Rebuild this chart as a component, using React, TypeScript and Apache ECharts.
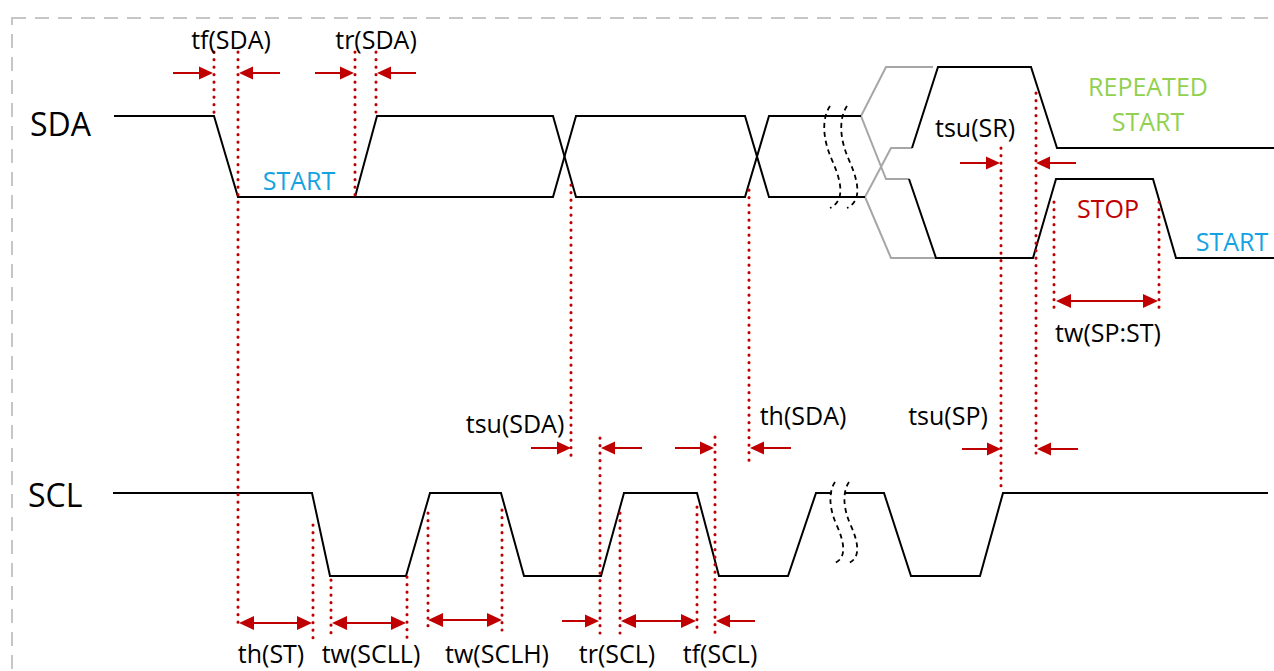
import React, { useEffect, useRef } from "react";
import * as echarts from "echarts";

const W = 1274;
const H = 671;

// signal levels (vertical value units)
const SDA_HI = 116;
const SDA_LO = 197;
const RS_TOP = 67;
const RS_MID = 148;
const SP_MID = 179;
const SP_LOW = 258;
const SCL_HI = 493;
const SCL_LO = 576;

// SDA bus traces (time, level)
const sdaTraceA = [[114, SDA_HI], [214, SDA_HI], [238, SDA_LO], [355, SDA_LO], [553, SDA_LO], [576, SDA_HI], [745, SDA_HI], [769, SDA_LO], [865, SDA_LO]];
const sdaTraceB = [[355, SDA_LO], [377, SDA_HI], [553, SDA_HI], [576, SDA_LO], [745, SDA_LO], [769, SDA_HI], [861, SDA_HI]];
const sdaGrayUpper = [[933, RS_TOP], [886, RS_TOP], [861, SDA_HI], [886, SP_MID], [909, SP_MID]];
const sdaGrayLower = [[912, RS_MID], [891, RS_MID], [865, SDA_LO], [891, SP_LOW], [936, SP_LOW]];
const sdaRepeatedStart = [[912, RS_MID], [938, RS_TOP], [1031, RS_TOP], [1057, RS_MID], [1274, RS_MID]];
const sdaStopStart = [[909, SP_MID], [936, SP_LOW], [1033, SP_LOW], [1056, SP_MID], [1153, SP_MID], [1176, SP_LOW], [1274, SP_LOW]];

// SCL traces
const sclTraceA = [[113, SCL_HI], [312, SCL_HI], [330, SCL_LO], [406, SCL_LO], [430, SCL_HI], [501, SCL_HI], [524, SCL_LO], [601, SCL_LO], [624, SCL_HI], [697, SCL_HI], [719, SCL_LO], [788, SCL_LO], [816, SCL_HI], [832, SCL_HI]];
const sclTraceB = [[845, SCL_HI], [884, SCL_HI], [911, SCL_LO], [980, SCL_LO], [1003, SCL_HI], [1268, SCL_HI]];

// dotted timing markers: [time, from level, to level]
const markers = [
  [214, 52, 118], [238, 52, 625], [355, 52, 197], [376, 52, 112],
  [571, 185, 458], [749, 190, 462],
  [600, 438, 633], [620, 513, 633], [697, 507, 633], [715, 437, 633],
  [313, 525, 643], [331, 580, 638], [407, 577, 638], [428, 513, 630], [502, 510, 630],
  [1001, 148, 492], [1036, 93, 453], [1054, 202, 312], [1159, 202, 312],
];

// single arrows: [from time, to time (tip), level]
const arrowsOne = [
  [173, 213, 73], [280, 239, 73], [315, 354, 73], [416, 377, 73],
  [960, 1000, 163], [1076, 1036, 163],
  [531, 571, 448], [642, 601, 448], [675, 714, 448], [791, 750, 448],
  [962, 1001, 449], [1078, 1037, 449],
  [562, 599, 621], [755, 716, 621],
];
// double arrows: [time a, time b, level]
const arrowsTwo = [
  [239, 312, 623], [332, 406, 623], [428, 502, 620], [621, 696, 621], [1056, 1158, 301],
];

// break marks: [time, top level, bottom level, spacing]
const breaks = [
  [830, 106, 208, 17],
  [835, 482, 563, 14],
];

// annotation texts
const labelTexts = ["tf(SDA)", "tr(SDA)", "START", "REPEATED", "START", "tsu(SR)", "STOP", "START", "tw(SP:ST)", "tsu(SDA)", "th(SDA)", "tsu(SP)", "th(ST)", "tw(SCLL)", "tw(SCLH)", "tr(SCL)", "tf(SCL)"];
const labelKinds = ["k", "k", "b", "g", "g", "k", "r", "b", "k", "k", "k", "k", "k", "k", "k", "k", "k"];
const labelAt = [
  [231, 39], [376, 39], [299, 180], [1148, 86], [1148, 121], [975, 127], [1108, 208], [1232, 241], [1108, 332],
  [515, 423], [803, 415], [948, 415], [271, 653], [371, 653], [497, 653], [617, 653], [720, 653],
];
const signalNames = ["SDA", "SCL"];
const signalAt = [[30, 123], [28, 494]];

const RED = "#c00000";
const KIND_COLOR: Record<string, string> = { k: "#000000", b: "#14a3e0", g: "#92d050", r: "#c00000" };
const FONT = '"Open Sans", "Noto Sans", sans-serif';

function wave(data: number[][], color: string) {
  return {
    type: "line",
    data,
    symbol: "none",
    showSymbol: false,
    silent: true,
    lineStyle: { color, width: 2, join: "miter" },
    z: 3,
  };
}

export default function App() {
  const ref = useRef<HTMLDivElement>(null);
  useEffect(() => {
    document.body.style.margin = "0";
    const chart = echarts.init(ref.current!, null, { renderer: "svg" });

    const series: any[] = [
      wave(sdaGrayUpper, "#a6a6a6"),
      wave(sdaGrayLower, "#a6a6a6"),
      wave(sdaTraceA, "#000"),
      wave(sdaTraceB, "#000"),
      wave(sdaRepeatedStart, "#000"),
      wave(sdaStopStart, "#000"),
      wave(sclTraceA, "#000"),
      wave(sclTraceB, "#000"),
      {
        type: "custom",
        silent: true,
        z: 5,
        data: markers,
        renderItem: (params: any, api: any) => {
          const a = api.coord([api.value(0), api.value(1)]);
          const b = api.coord([api.value(0), api.value(2)]);
          return {
            type: "line",
            shape: { x1: a[0], y1: a[1], x2: b[0], y2: b[1] },
            style: { stroke: RED, lineWidth: 3, lineDash: [0.3, 7.2], lineCap: "round" },
          };
        },
      },
      {
        type: "custom",
        silent: true,
        z: 6,
        data: arrowsOne,
        renderItem: (params: any, api: any) => {
          const a = api.coord([api.value(0), api.value(2)]);
          const b = api.coord([api.value(1), api.value(2)]);
          const s = Math.sign(b[0] - a[0]) || 1;
          const L = 14, Wd = 6.5;
          return {
            type: "group",
            children: [
              { type: "line", shape: { x1: a[0], y1: a[1], x2: b[0] - s * L * 0.7, y2: b[1] }, style: { stroke: RED, lineWidth: 2 } },
              { type: "polygon", shape: { points: [[b[0], b[1]], [b[0] - s * L, b[1] - Wd], [b[0] - s * L, b[1] + Wd]] }, style: { fill: RED } },
            ],
          };
        },
      },
      {
        type: "custom",
        silent: true,
        z: 6,
        data: arrowsTwo,
        renderItem: (params: any, api: any) => {
          const a = api.coord([api.value(0), api.value(2)]);
          const b = api.coord([api.value(1), api.value(2)]);
          const L = 15, Wd = 7;
          return {
            type: "group",
            children: [
              { type: "line", shape: { x1: a[0] + L * 0.7, y1: a[1], x2: b[0] - L * 0.7, y2: b[1] }, style: { stroke: RED, lineWidth: 2 } },
              { type: "polygon", shape: { points: [[b[0], b[1]], [b[0] - L, b[1] - Wd], [b[0] - L, b[1] + Wd]] }, style: { fill: RED } },
              { type: "polygon", shape: { points: [[a[0], a[1]], [a[0] + L, a[1] - Wd], [a[0] + L, a[1] + Wd]] }, style: { fill: RED } },
            ],
          };
        },
      },
      {
        type: "custom",
        silent: true,
        z: 7,
        data: breaks,
        renderItem: (params: any, api: any) => {
          const x0 = api.value(0), yt = api.value(1), yb = api.value(2), gap = api.value(3);
          const h = yb - yt;
          const k = h / 102;
          const rel = [[0, 0], [-8, 0.12], [-8, 0.31], [2, 0.53], [12, 0.75], [15, 0.93], [0, 1]];
          const mk = (off: number) => {
            const p = rel.map(([dx, fy]) => api.coord([x0 + off + dx * k, yt + fy * h]));
            const d = `M${p[0][0]},${p[0][1]} C${p[1][0]},${p[1][1]} ${p[2][0]},${p[2][1]} ${p[3][0]},${p[3][1]} C${p[4][0]},${p[4][1]} ${p[5][0]},${p[5][1]} ${p[6][0]},${p[6][1]}`;
            return {
              type: "path",
              shape: { pathData: d },
              style: { stroke: "#000", fill: "none", lineWidth: 1.8, lineDash: [5, 4] },
            };
          };
          return { type: "group", children: [mk(0), mk(gap)] };
        },
      },
      {
        type: "custom",
        silent: true,
        z: 8,
        data: labelAt.map((p, i) => [p[0], p[1], i]),
        renderItem: (params: any, api: any) => {
          const i = api.value(2);
          const p = api.coord([api.value(0), api.value(1)]);
          return {
            type: "text",
            x: p[0],
            y: p[1],
            style: {
              text: labelTexts[i],
              fill: KIND_COLOR[labelKinds[i]],
              fontSize: 25,
              fontFamily: FONT,
              align: "center",
              verticalAlign: "middle",
            },
          };
        },
      },
      {
        type: "custom",
        silent: true,
        z: 8,
        data: signalAt.map((p, i) => [p[0], p[1], i]),
        renderItem: (params: any, api: any) => {
          const i = api.value(2);
          const p = api.coord([api.value(0), api.value(1)]);
          return {
            type: "text",
            x: p[0],
            y: p[1],
            style: {
              text: signalNames[i],
              fill: "#000",
              fontSize: 32,
              fontFamily: FONT,
              align: "left",
              verticalAlign: "middle",
            },
          };
        },
      },
    ];

    chart.setOption({
      animation: false,
      backgroundColor: "#ffffff",
      grid: { left: 0, right: 0, top: 0, bottom: 0 },
      xAxis: { type: "value", min: 0, max: W, show: false },
      yAxis: { type: "value", min: 0, max: H, inverse: true, show: false },
      graphic: [
        {
          type: "rect",
          silent: true,
          z: 0,
          shape: { x: 12, y: 18, width: 1400, height: 800 },
          style: { fill: "none", stroke: "#c6c6c6", lineWidth: 2, lineDash: [14, 9] },
        },
      ],
      series,
    });
    return () => chart.dispose();
  }, []);
  return <div ref={ref} style={{ width: W, height: H }} />;
}
